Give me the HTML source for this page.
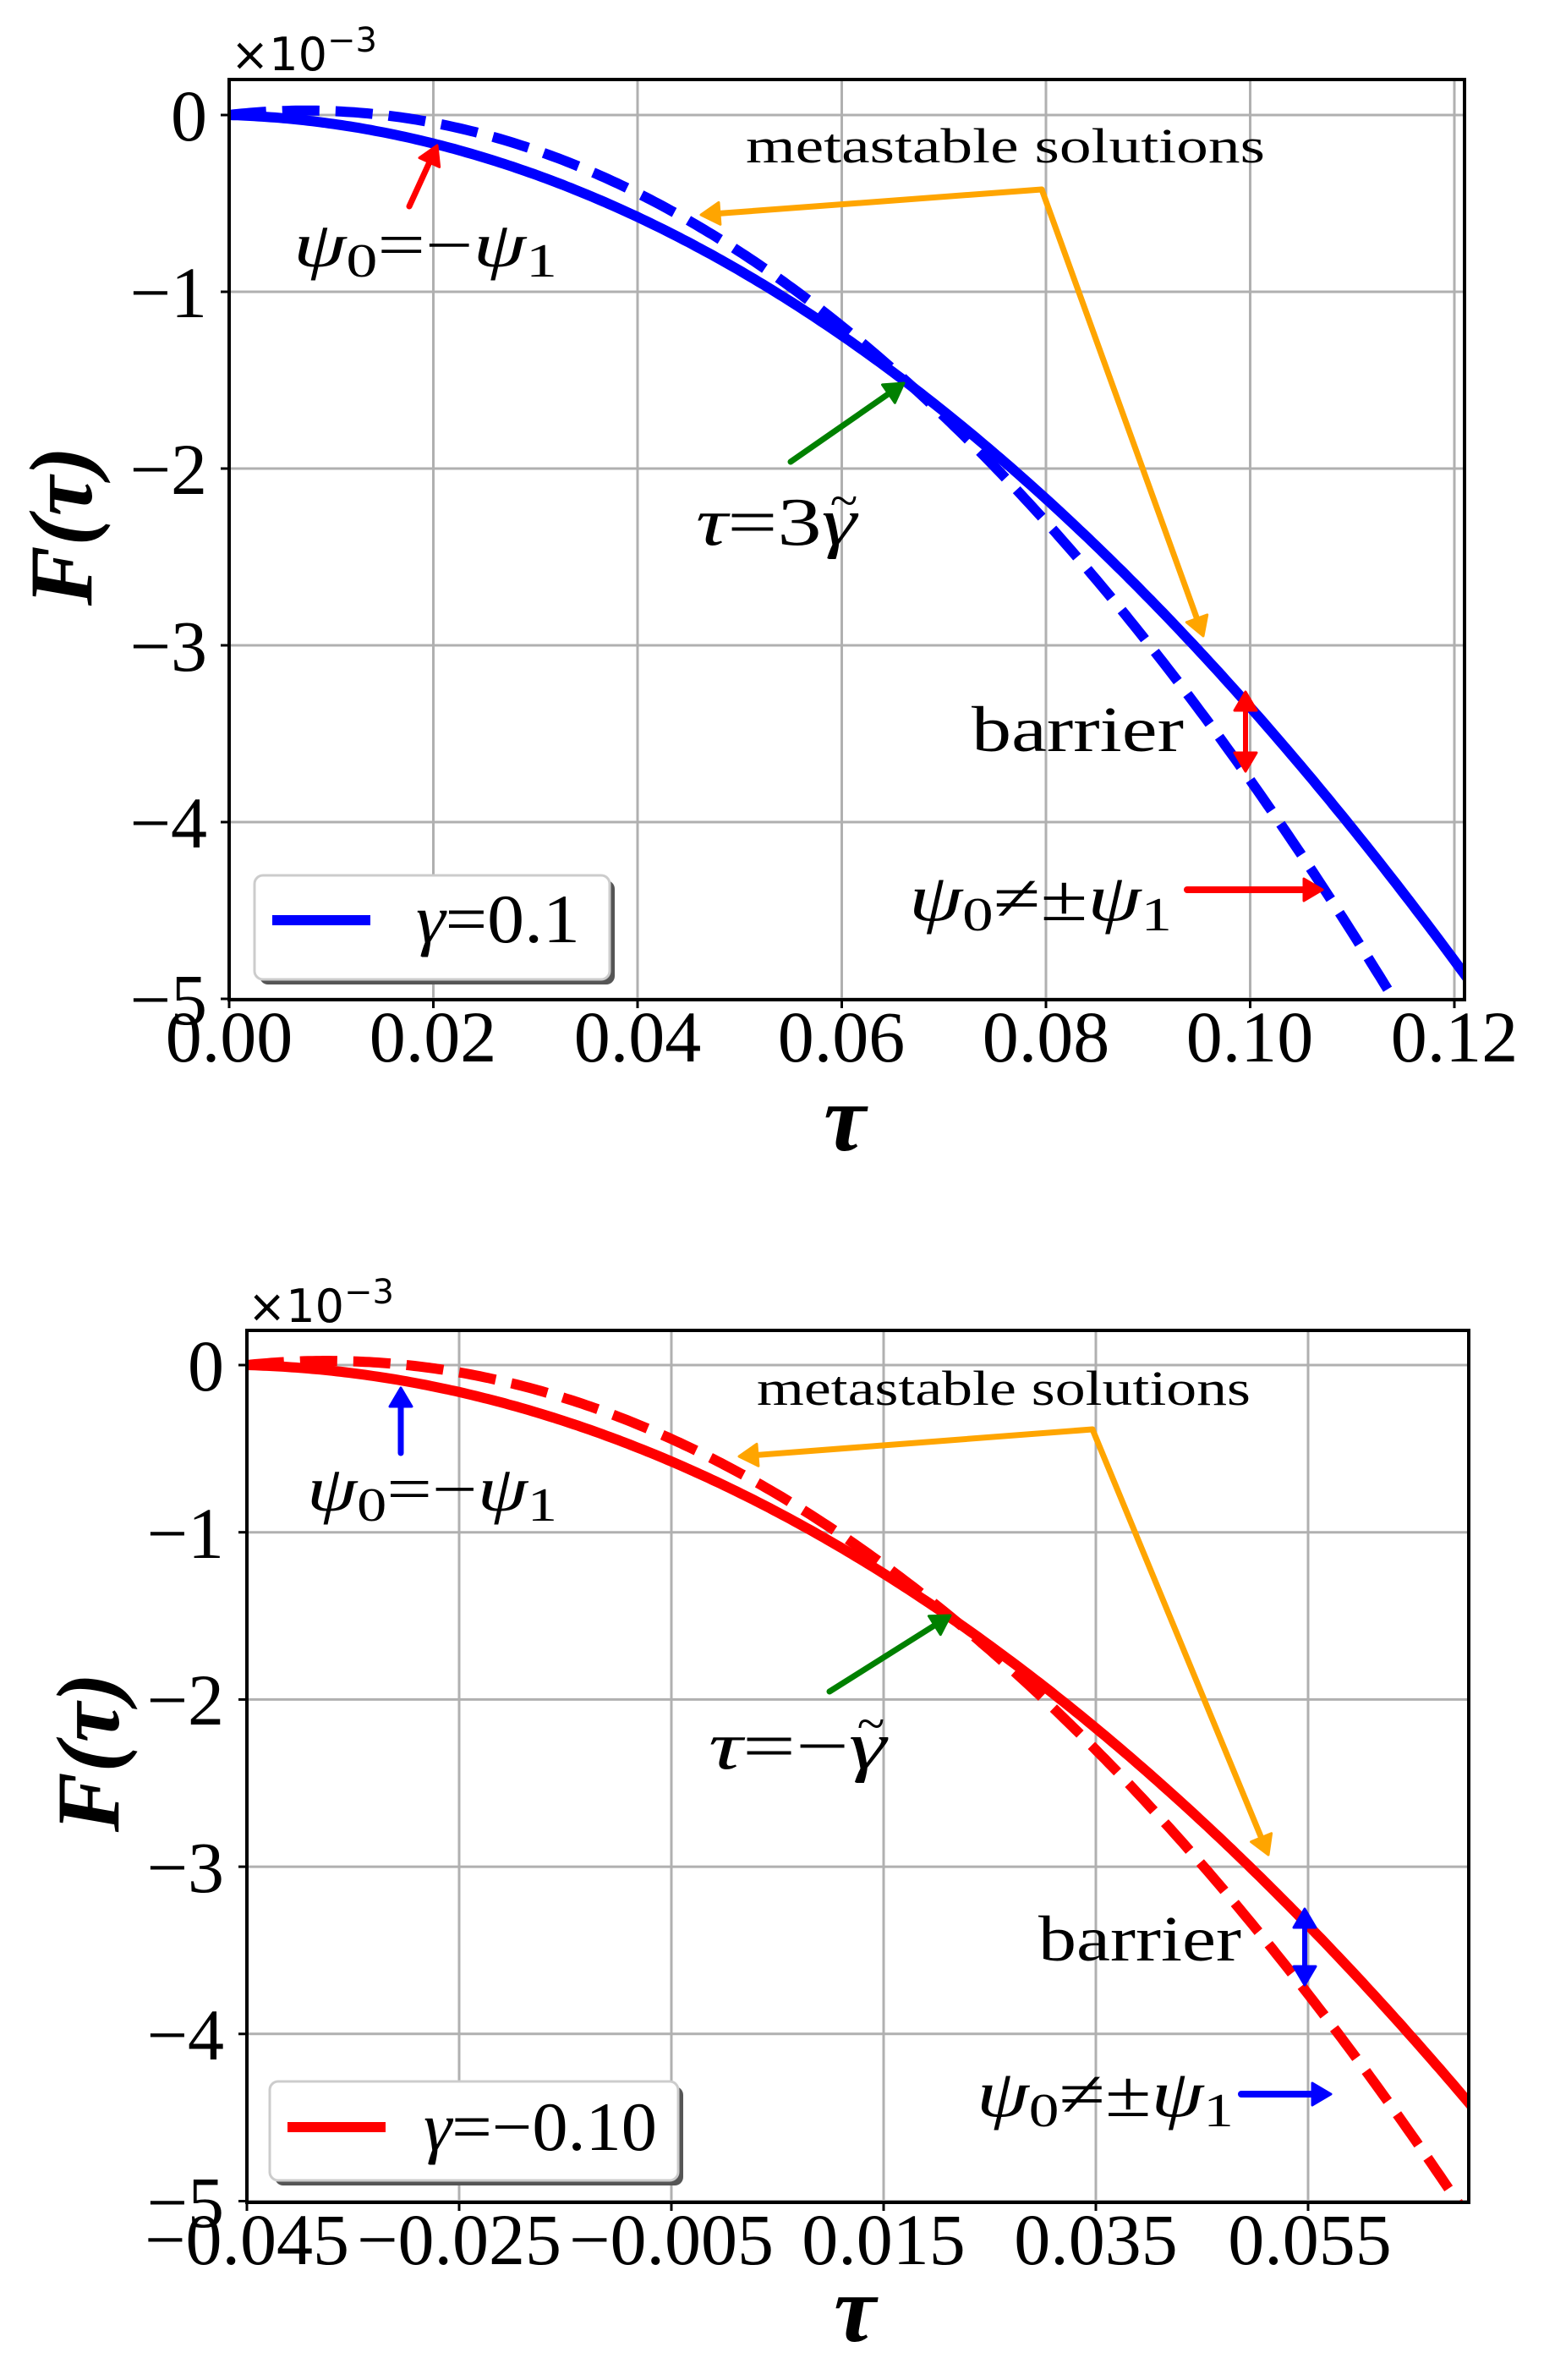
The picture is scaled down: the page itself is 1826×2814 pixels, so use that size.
<!DOCTYPE html>
<html><head><meta charset="utf-8">
<style>
html,body{margin:0;padding:0;background:#fff;}
svg{display:block;}
text{font-family:"Liberation Serif","DejaVu Serif",serif;fill:#000;}
.sans{font-family:"DejaVu Sans","Liberation Sans",sans-serif;}
</style></head>
<body>
<svg id="s" width="1826" height="2814" viewBox="0 0 1826 2814" xmlns="http://www.w3.org/2000/svg">
<rect width="1826" height="2814" fill="#fff"/>
<g id="g1"></g>
<g id="g2"></g>
<!-- Top texts -->
<text class="sans" x="273" y="83" font-size="54">×10<tspan font-size="40" dy="-22">−3</tspan></text>
<g font-size="86" text-anchor="end">
<text x="245" y="166">0</text>
<text x="245" y="375">−1</text>
<text x="245" y="584">−2</text>
<text x="245" y="793">−3</text>
<text x="245" y="1002">−4</text>
<text x="245" y="1211">−5</text>
</g>
<g font-size="86" text-anchor="middle">
<text x="271" y="1255">0.00</text><text x="512" y="1255">0.02</text><text x="754" y="1255">0.04</text>
<text x="995" y="1255">0.06</text><text x="1237" y="1255">0.08</text><text x="1478" y="1255">0.10</text><text x="1720" y="1255">0.12</text>
</g>
<text x="999" y="1360" font-size="112" font-style="italic" font-weight="bold" text-anchor="middle">τ</text>
<text transform="translate(108,622) rotate(-90)" font-size="106" font-style="italic" font-weight="bold" text-anchor="middle">F(τ)</text>
<text x="882" y="192" font-size="58" textLength="614" lengthAdjust="spacingAndGlyphs">metastable solutions</text>
<text x="347" y="315" font-size="76" textLength="312" lengthAdjust="spacingAndGlyphs"><tspan font-style="italic">ψ</tspan><tspan font-size="56" dy="12">0</tspan><tspan dy="-12">=−</tspan><tspan font-style="italic">ψ</tspan><tspan font-size="56" dy="12">1</tspan></text>
<text x="823" y="644" font-size="80" textLength="190" lengthAdjust="spacingAndGlyphs"><tspan font-style="italic">τ</tspan>=3<tspan font-style="italic">γ</tspan></text>
<text x="998" y="612" font-size="60" text-anchor="middle">~</text>
<text x="1149" y="888" font-size="76" textLength="251" lengthAdjust="spacingAndGlyphs">barrier</text>
<text x="1075" y="1088" font-size="78" textLength="311" lengthAdjust="spacingAndGlyphs"><tspan font-style="italic">ψ</tspan><tspan font-size="56" dy="12">0</tspan><tspan dy="-12">≠±</tspan><tspan font-style="italic">ψ</tspan><tspan font-size="56" dy="12">1</tspan></text>
<!-- legend top -->
<rect x="307" y="1041" width="420" height="123" rx="10" fill="#555"/>
<rect x="301" y="1035" width="420" height="123" rx="10" fill="#fff" stroke="#ccc" stroke-width="3"/>
<line x1="322" y1="1088" x2="438" y2="1088" stroke="#0000ff" stroke-width="12"/>
<text x="492" y="1114" font-size="82" textLength="194" lengthAdjust="spacingAndGlyphs"><tspan font-style="italic">γ</tspan>=0.1</text>

<!-- Bottom texts -->
<text class="sans" x="293" y="1563" font-size="54">×10<tspan font-size="40" dy="-22">−3</tspan></text>
<g font-size="86" text-anchor="end">
<text x="265" y="1644">0</text>
<text x="265" y="1842">−1</text>
<text x="265" y="2039">−2</text>
<text x="265" y="2237">−3</text>
<text x="265" y="2435">−4</text>
<text x="265" y="2633">−5</text>
</g>
<g font-size="86" text-anchor="middle">
<text x="292" y="2677">−0.045</text><text x="543" y="2677">−0.025</text><text x="794" y="2677">−0.005</text>
<text x="1045" y="2677">0.015</text><text x="1296" y="2677">0.035</text><text x="1549" y="2677">0.055</text>
</g>
<text x="1011" y="2768" font-size="112" font-style="italic" font-weight="bold" text-anchor="middle">τ</text>
<text transform="translate(140,2072) rotate(-90)" font-size="106" font-style="italic" font-weight="bold" text-anchor="middle">F(τ)</text>
<text x="895" y="1661" font-size="58" textLength="584" lengthAdjust="spacingAndGlyphs">metastable solutions</text>
<text x="363" y="1786" font-size="76" textLength="296" lengthAdjust="spacingAndGlyphs"><tspan font-style="italic">ψ</tspan><tspan font-size="56" dy="12">0</tspan><tspan dy="-12">=−</tspan><tspan font-style="italic">ψ</tspan><tspan font-size="56" dy="12">1</tspan></text>
<text x="838" y="2091" font-size="80" textLength="210" lengthAdjust="spacingAndGlyphs"><tspan font-style="italic">τ</tspan>=−<tspan font-style="italic">γ</tspan></text>
<text x="1030" y="2058" font-size="60" text-anchor="middle">~</text>
<text x="1228" y="2318" font-size="76" textLength="240" lengthAdjust="spacingAndGlyphs">barrier</text>
<text x="1155" y="2502" font-size="78" textLength="304" lengthAdjust="spacingAndGlyphs"><tspan font-style="italic">ψ</tspan><tspan font-size="56" dy="12">0</tspan><tspan dy="-12">≠±</tspan><tspan font-style="italic">ψ</tspan><tspan font-size="56" dy="12">1</tspan></text>
<rect x="325" y="2467" width="483" height="117" rx="10" fill="#555"/>
<rect x="319" y="2461" width="483" height="117" rx="10" fill="#fff" stroke="#ccc" stroke-width="3"/>
<line x1="340" y1="2515" x2="456" y2="2515" stroke="#ff0000" stroke-width="12"/>
<text x="501" y="2542" font-size="82" textLength="276" lengthAdjust="spacingAndGlyphs"><tspan font-style="italic">γ</tspan>=−0.10</text>
</svg>
<script>
var NS="http://www.w3.org/2000/svg";
function el(p,n,a){var e=document.createElementNS(NS,n);for(var k in a)e.setAttribute(k,a[k]);p.appendChild(e);return e;}
function arrow(p,x1,y1,x2,y2,c,w){
  var dx=x2-x1,dy=y2-y1,L=Math.sqrt(dx*dx+dy*dy),ux=dx/L,uy=dy/L,hl=22,hw=13;
  var bx=x2-ux*hl,by=y2-uy*hl;
  el(p,'line',{x1:x1,y1:y1,x2:bx,y2:by,stroke:c,'stroke-width':w,'stroke-linecap':'round'});
  el(p,'polygon',{points:x2+','+y2+' '+(bx-uy*hw)+','+(by+ux*hw)+' '+(bx+uy*hw)+','+(by-ux*hw),fill:c,stroke:c,'stroke-width':3,'stroke-linejoin':'round'});
}
function plot(g,o){
  var X=function(u){return o.x0+u/0.02*o.dx;}, Y=function(f){return o.y0-f*o.dy;};
  el(g,'rect',{x:o.L,y:o.T,width:o.R-o.L,height:o.B-o.T,fill:'#fff'});
  var clip=el(g,'clipPath',{id:o.id});el(clip,'rect',{x:o.L,y:o.T,width:o.R-o.L,height:o.B-o.T});
  for(var i=0;i<7;i++){var x=X(0.02*i);if(x<=o.R){el(g,'line',{x1:x,y1:o.T,x2:x,y2:o.B,stroke:'#b0b0b0','stroke-width':3});el(g,'line',{x1:x,y1:o.B,x2:x,y2:o.B+10,stroke:'#000','stroke-width':3});}}
  for(var j=0;j<=5;j++){var y=Y(-j);el(g,'line',{x1:o.L,y1:y,x2:o.R,y2:y,stroke:'#b0b0b0','stroke-width':3});el(g,'line',{x1:o.L-10,y1:y,x2:o.L,y2:y,stroke:'#000','stroke-width':3});}
  var s='',d='';
  for(var k=0;k<=300;k++){var u=o.umax*k/300;
    var fs=-1.7*u-318*u*u, fd=fs+125*u*(0.067-u);
    s+=(k?'L':'M')+X(u).toFixed(1)+','+Y(fs).toFixed(1);
    d+=(k?'L':'M')+X(u).toFixed(1)+','+Y(fd).toFixed(1);}
  var cg=el(g,'g',{'clip-path':'url(#'+o.id+')'});
  el(cg,'path',{d:d,fill:'none',stroke:o.c,'stroke-width':12,'stroke-dasharray':'44 19'});
  el(cg,'path',{d:s,fill:'none',stroke:o.c,'stroke-width':12});
  el(g,'rect',{x:o.L,y:o.T,width:o.R-o.L,height:o.B-o.T,fill:'none',stroke:'#000','stroke-width':4});
}
var g1=document.getElementById('g1'),g2=document.getElementById('g2');
plot(g1,{id:'c1',L:271,R:1732,T:94,B:1182,x0:271,dx:241.5,y0:136,dy:209,umax:0.1225,c:'#0000ff'});
plot(g2,{id:'c2',L:292,R:1737,T:1573,B:2604,x0:292,dx:251,y0:1614,dy:197.7,umax:0.1155,c:'#ff0000'});
// top annotations
arrow(g1,1232,224,829,254,'#ffa500',7);
arrow(g1,1232,224,1423,752,'#ffa500',7);
arrow(g1,484,244,517,172,'#ff0000',7);
arrow(g1,935,546,1069,453,'#008000',7);
arrow(g1,1473,865,1473,818,'#ff0000',6);arrow(g1,1473,865,1473,912,'#ff0000',6);
arrow(g1,1404,1052,1564,1052,'#ff0000',8);
// bottom annotations
arrow(g2,1292,1690,874,1722,'#ffa500',7);
arrow(g2,1292,1690,1500,2193,'#ffa500',7);
arrow(g2,474,1718,474,1641,'#0000ff',7);
arrow(g2,981,2000,1124,1910,'#008000',7);
arrow(g2,1543,2302,1543,2257,'#0000ff',6);arrow(g2,1543,2302,1543,2347,'#0000ff',6);
arrow(g2,1468,2476,1574,2476,'#0000ff',8);
</script>
</body></html>
